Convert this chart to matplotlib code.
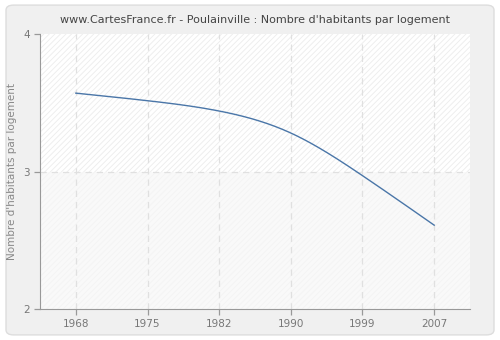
import matplotlib
matplotlib.use("Agg")
import matplotlib.pyplot as plt
import numpy as np
from matplotlib.patches import FancyBboxPatch, Rectangle

# Nombre d'habitants par logement, Poulainville
years = ["1968", "1975", "1982", "1990", "1999", "2007"]
values = [3.57, 3.515, 3.44, 3.28, 2.97, 2.61]


def natural_spline(x, y, xs):
    # natural cubic spline through the points
    x = np.asarray(x, float)
    y = np.asarray(y, float)
    n = len(x)
    h = np.diff(x)
    A = np.zeros((n, n))
    b = np.zeros(n)
    A[0, 0] = A[-1, -1] = 1
    for i in range(1, n - 1):
        A[i, i - 1] = h[i - 1]
        A[i, i] = 2 * (h[i - 1] + h[i])
        A[i, i + 1] = h[i]
        b[i] = 6 * ((y[i + 1] - y[i]) / h[i] - (y[i] - y[i - 1]) / h[i - 1])
    M = np.linalg.solve(A, b)
    out = np.empty_like(xs)
    for j, xv in enumerate(xs):
        k = min(np.searchsorted(x, xv, side="right") - 1, n - 2)
        a, c = x[k + 1] - xv, xv - x[k]
        out[j] = (M[k] * a**3 + M[k + 1] * c**3) / (6 * h[k]) \
            + (y[k] / h[k] - M[k] * h[k] / 6) * a + (y[k + 1] / h[k] - M[k + 1] * h[k] / 6) * c
    return out


plt.rcParams["hatch.linewidth"] = 0.6

fig = plt.figure(figsize=(5.0, 3.4), dpi=100)
fig.patch.set_facecolor("white")
fig.patches.append(FancyBboxPatch((0.012, 0.015), 0.976, 0.97,
                                  boxstyle="round,pad=0,rounding_size=0.015",
                                  transform=fig.transFigure, facecolor="#f0f0f0",
                                  edgecolor="#dddddd", linewidth=1, zorder=-10))

ax = fig.add_axes([0.08, 0.091, 0.86, 0.809])
ax.set_facecolor("#fbfbfb")

pos = np.arange(len(years))
ax.set_xlim(-0.5, len(years) - 0.5)
ax.set_ylim(2, 4)

# hatched background
ax.add_patch(Rectangle((-0.5, 3), len(years), 1, facecolor="white", edgecolor="#ececec",
                       hatch="//////", linewidth=0, zorder=0))
ax.add_patch(Rectangle((-0.5, 2), len(years), 1, facecolor="#f9f9f9", edgecolor="#f3f3f3",
                       hatch="//////", linewidth=0, zorder=0))

for p in pos:
    ax.axvline(p, color="#e0e0e0", linestyle=(0, (5, 4)), linewidth=0.9, zorder=1)
ax.axhline(3, color="#e0e0e0", linestyle=(0, (5, 4)), linewidth=0.9, zorder=1)

xs = np.linspace(0, len(years) - 1, 300)
ax.plot(xs, natural_spline(pos, values, xs), color="#4a76a8", linewidth=1.0, zorder=3)

ax.set_xticks(pos)
ax.set_xticklabels(years)
ax.set_yticks([2, 3, 4])
for s in ["top", "right"]:
    ax.spines[s].set_visible(False)
for s in ["left", "bottom"]:
    ax.spines[s].set_color("#999999")
ax.tick_params(colors="#999999", labelcolor="#777777", labelsize=7.5, length=4, width=0.9)
ax.set_ylabel("Nombre d'habitants par logement", color="#888888", fontsize=7.5)
ax.set_title("www.CartesFrance.fr - Poulainville : Nombre d'habitants par logement",
             color="#444444", fontsize=8, pad=8)

fig.savefig("out.png", dpi=100)
